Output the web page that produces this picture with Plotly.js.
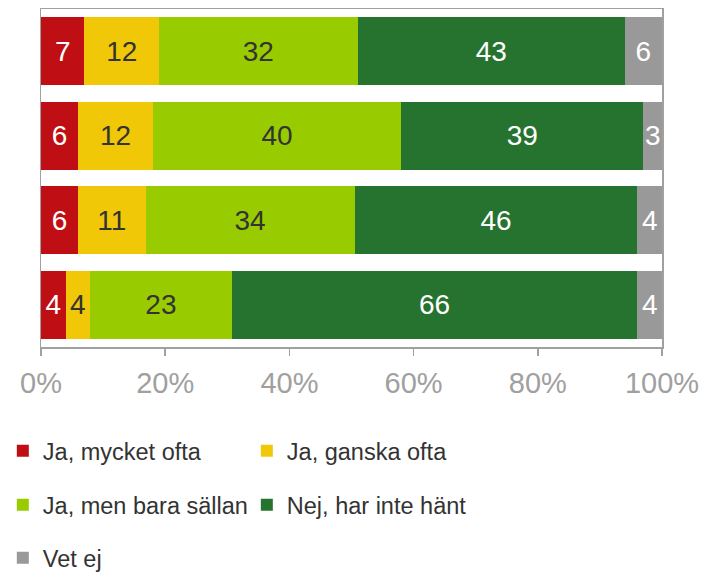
<!DOCTYPE html>
<html>
<head>
<meta charset="utf-8">
<script src="https://cdn.plot.ly/plotly-3.0.1.min.js"></script>
<style>html,body{margin:0;padding:0;background:#fff}#chart{width:707px;height:574px}</style>
</head>
<body>
<div id="chart"></div>
<script>
const categories = ['Grupp 1', 'Grupp 2', 'Grupp 3', 'Grupp 4'];
const seriesNames = ['Ja, mycket ofta', 'Ja, ganska ofta', 'Ja, men bara sällan', 'Nej, har inte hänt', 'Vet ej'];
const jaMycketOfta = [7, 6, 6, 4];
const jaGanskaOfta = [12, 12, 11, 4];
const jaSallan = [32, 40, 34, 23];
const nejInteHant = [43, 39, 46, 66];
const vetEj = [6, 3, 4, 4];
const tickVals = [0, 20, 40, 60, 80, 100];
const tickLabels = ['0%', '20%', '40%', '60%', '80%', '100%'];

const colors = ['#C00F14', '#F0C808', '#99CC00', '#267330', '#999999'];
const textColors = ['#ffffff', '#333333', '#333333', '#ffffff', '#ffffff'];
const legendIds = ['legend', 'legend', 'legend2', 'legend2', 'legend3'];
const values = [jaMycketOfta, jaGanskaOfta, jaSallan, nejInteHant, vetEj];
const FONT = '"Liberation Sans", Arial, sans-serif';

const traces = values.map((v, i) => ({
  type: 'bar',
  orientation: 'h',
  name: seriesNames[i],
  y: categories,
  x: v,
  text: v.map(String),
  textposition: 'inside',
  insidetextanchor: 'middle',
  constraintext: 'none',
  textfont: {family: FONT, size: 28, color: textColors[i]},
  marker: {color: colors[i], line: {width: 0}},
  legend: legendIds[i],
  hoverinfo: 'none'
}));

const legendBase = {
  orientation: 'h',
  xref: 'container',
  yref: 'container',
  x: 0.004,
  xanchor: 'left',
  yanchor: 'middle',
  entrywidth: 199,
  entrywidthmode: 'pixels',
  itemwidth: 30,
  font: {family: FONT, size: 23.5, color: '#333333'},
  bgcolor: 'rgba(0,0,0,0)',
  traceorder: 'normal'
};

const layout = {
  width: 707,
  height: 574,
  margin: {l: 41, r: 45, t: 9, b: 227},
  paper_bgcolor: '#ffffff',
  plot_bgcolor: '#ffffff',
  barmode: 'stack',
  barnorm: 'percent',
  bargap: 0.195,
  showlegend: true,
  xaxis: {
    range: [0, 100],
    tickvals: tickVals,
    ticktext: tickLabels,
    ticks: 'outside',
    ticklen: 7,
    tickwidth: 1.5,
    tickcolor: '#a0a0a0',
    ticklabelstandoff: 3,
    tickfont: {family: FONT, size: 29, color: '#a0a0a0'},
    showline: true,
    linecolor: '#a0a0a0',
    linewidth: 1.5,
    mirror: true,
    showgrid: false,
    zeroline: false,
    automargin: false,
    fixedrange: true
  },
  yaxis: {
    type: 'category',
    categoryorder: 'array',
    categoryarray: categories,
    autorange: 'reversed',
    showticklabels: false,
    ticks: '',
    showline: true,
    linecolor: '#a0a0a0',
    linewidth: 1.5,
    mirror: true,
    showgrid: false,
    zeroline: false,
    automargin: false,
    fixedrange: true
  },
  legend: Object.assign({}, legendBase, {y: 0.2143}),
  legend2: Object.assign({}, legendBase, {y: 0.1202}),
  legend3: Object.assign({}, legendBase, {y: 0.0279})
};

Plotly.newPlot('chart', traces, layout, {displayModeBar: false, staticPlot: true});
</script>
</body>
</html>
